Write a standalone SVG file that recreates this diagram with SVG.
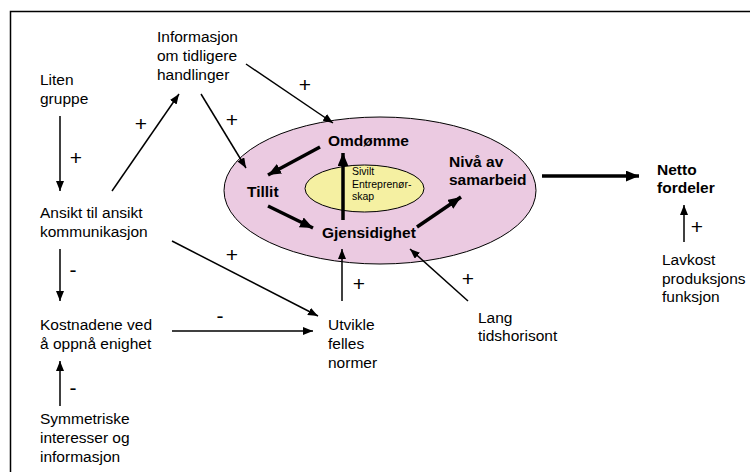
<svg xmlns="http://www.w3.org/2000/svg" width="750" height="472" viewBox="0 0 750 472">
  <defs>
    <marker id="ah" viewBox="0 0 10 8" refX="10" refY="4" markerWidth="10" markerHeight="8" markerUnits="userSpaceOnUse" orient="auto">
      <path d="M0,0 L10,4 L0,8 z" fill="#000"/>
    </marker>
    <marker id="ahb" viewBox="0 0 12 10" refX="12" refY="5" markerWidth="13" markerHeight="11" markerUnits="userSpaceOnUse" orient="auto">
      <path d="M0,0 L12,5 L0,10 z" fill="#000"/>
    </marker>
    <style>
      text { font-family: "Liberation Sans", Arial, sans-serif; font-size: 15.5px; fill: #000; }
      .b { font-weight: bold; }
      .s { font-size: 10.5px; }
      .sign { text-anchor: middle; font-size: 21px; }
      .thin { stroke: #000; stroke-width: 1.5; fill: none; marker-end: url(#ah); }
      .thick { stroke: #000; stroke-width: 3.5; fill: none; marker-end: url(#ahb); }
    </style>
  </defs>

  <rect width="750" height="472" fill="#fff"/>
  <!-- frame -->
  <path d="M10.5,472 L10.5,11.5 L750,11.5" fill="none" stroke="#000" stroke-width="1.5"/>

  <!-- core ellipses -->
  <g id="core">
    <ellipse cx="380" cy="190.5" rx="156" ry="73.5" fill="#EBCAE1" stroke="#000" stroke-width="1"/>
    <ellipse cx="364.5" cy="188.5" rx="59.5" ry="23.5" fill="#F5F0A2" stroke="#000" stroke-width="1"/>
  </g>

  <g id="sivilt"><text class="s" x="352" y="175">Sivilt</text><text class="s" x="352" y="187.5">Entreprenør-</text><text class="s" x="352" y="200">skap</text></g>
  <g id="omdomme"><text class="b" x="328" y="146">Omdømme</text></g>
  <g id="tillit"><text class="b" x="247" y="197">Tillit</text></g>
  <g id="gjensidighet"><text class="b" x="322" y="238">Gjensidighet</text></g>
  <g id="niva"><text class="b" x="449" y="167">Nivå av</text><text class="b" x="449" y="185">samarbeid</text></g>
  <g id="netto"><text class="b" x="657" y="175">Netto</text><text class="b" x="657" y="193">fordeler</text></g>

  <g id="informasjon"><text x="157" y="41.5">Informasjon</text><text x="157" y="60.5">om tidligere</text><text x="157" y="79.5">handlinger</text></g>
  <g id="liten"><text x="40" y="85">Liten</text><text x="40" y="104">gruppe</text></g>
  <g id="ansikt"><text x="40" y="218">Ansikt til ansikt</text><text x="40" y="237">kommunikasjon</text></g>
  <g id="kostnadene"><text x="40" y="330">Kostnadene ved</text><text x="40" y="349">å oppnå enighet</text></g>
  <g id="symmetriske"><text x="40" y="424">Symmetriske</text><text x="40" y="443">interesser og</text><text x="40" y="462">informasjon</text></g>
  <g id="utvikle"><text x="328" y="330">Utvikle</text><text x="328" y="349">felles</text><text x="328" y="368">normer</text></g>
  <g id="lang"><text x="478" y="323">Lang</text><text x="478" y="341">tidshorisont</text></g>
  <g id="lavkost"><text x="662" y="265">Lavkost</text><text x="662" y="283.5">produksjons</text><text x="662" y="302">funksjon</text></g>

  <!-- connectors -->
  <g id="connectors">
    <line class="thin" x1="60" y1="116" x2="60" y2="191"/>
    <line class="thin" x1="112" y1="191" x2="179" y2="94"/>
    <line class="thin" x1="201" y1="94" x2="246" y2="168"/>
    <line class="thin" x1="246" y1="64" x2="333" y2="123"/>
    <line class="thin" x1="172" y1="241" x2="318" y2="316"/>
    <line class="thin" x1="60" y1="249" x2="60" y2="301"/>
    <line class="thin" x1="172" y1="331" x2="313" y2="331"/>
    <line class="thin" x1="60" y1="406" x2="60" y2="361"/>
    <line class="thin" x1="342" y1="301" x2="342" y2="249"/>
    <line class="thin" x1="468" y1="301" x2="410" y2="249"/>
    <line class="thin" x1="684" y1="242" x2="684" y2="205"/>
    <line class="thick" x1="542" y1="176" x2="639" y2="176"/>
    <line class="thick" x1="320" y1="147" x2="268" y2="175"/>
    <line class="thick" x1="268" y1="206" x2="313" y2="228"/>
    <line class="thick" x1="343" y1="220" x2="343" y2="153"/>
    <line class="thick" x1="417" y1="227" x2="461" y2="197"/>
  </g>

  <!-- link signs -->
  <g id="signs">
    <text class="sign" x="76" y="165">+</text>
    <text class="sign" x="141" y="131">+</text>
    <text class="sign" x="232" y="127">+</text>
    <text class="sign" x="305" y="92">+</text>
    <text class="sign" x="232" y="262">+</text>
    <text class="sign" x="73" y="277">-</text>
    <text class="sign" x="220" y="323">-</text>
    <text class="sign" x="73" y="395">-</text>
    <text class="sign" x="359" y="291">+</text>
    <text class="sign" x="468" y="286">+</text>
    <text class="sign" x="697" y="234">+</text>
  </g>
</svg>
